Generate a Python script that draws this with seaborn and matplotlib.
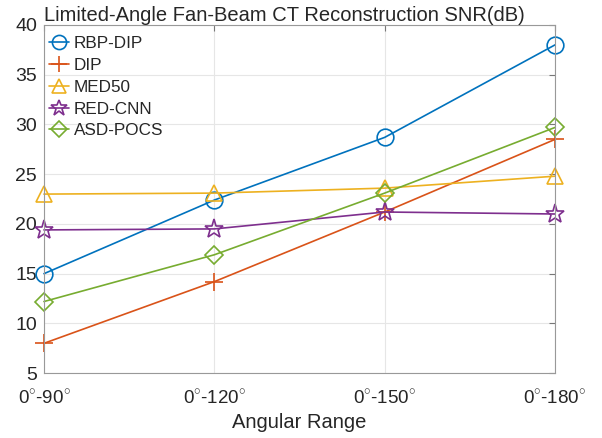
import matplotlib
matplotlib.use("Agg")
import matplotlib.pyplot as plt
import seaborn as sns
import pandas as pd
import numpy as np

categories = ["0$^{\\circ}$-90$^{\\circ}$", "0$^{\\circ}$-120$^{\\circ}$",
              "0$^{\\circ}$-150$^{\\circ}$", "0$^{\\circ}$-180$^{\\circ}$"]
rbp_dip = [15.0, 22.4, 28.7, 38.0]
dip = [8.0, 14.2, 21.2, 28.5]
med50 = [23.0, 23.1, 23.6, 24.8]
red_cnn = [19.4, 19.5, 21.2, 21.0]
asd_pocs = [12.2, 16.9, 23.1, 29.7]

series = {"RBP-DIP": rbp_dip, "DIP": dip, "MED50": med50,
          "RED-CNN": red_cnn, "ASD-POCS": asd_pocs}
colors = {"RBP-DIP": "#0072BD", "DIP": "#D95319", "MED50": "#EDB120",
          "RED-CNN": "#7E2F8E", "ASD-POCS": "#77AC30"}
markers = {"RBP-DIP": "o", "DIP": "+", "MED50": "^", "RED-CNN": "*", "ASD-POCS": "D"}
msizes = {"RBP-DIP": 12, "DIP": 13, "MED50": 12, "RED-CNN": 14, "ASD-POCS": 9.5}

rows = []
for name, vals in series.items():
    for i, v in enumerate(vals):
        rows.append({"x": i, "SNR": v, "method": name})
df = pd.DataFrame(rows)

sns.set_style("white")
plt.rcParams['font.family'] = ['Liberation Sans', 'DejaVu Sans']
plt.rcParams['mathtext.fontset'] = 'custom'
plt.rcParams['mathtext.rm'] = 'Liberation Sans'

fig = plt.figure(figsize=(6.02, 4.38), dpi=100)
ax = fig.add_axes([0.073, 0.148, 0.849, 0.795])

for name in series:
    sub = df[df["method"] == name]
    sns.lineplot(data=sub, x="x", y="SNR", ax=ax, color=colors[name],
                 marker=markers[name], markersize=msizes[name],
                 markerfacecolor="none", markeredgecolor=colors[name],
                 markeredgewidth=1.2, linewidth=1.2, label=name, clip_on=False)

ax.set_xlim(0, 3)
ax.set_ylim(5, 40)
ax.set_xticks(range(4))
ax.set_xticklabels(categories, fontsize=13.5)
ax.set_yticks(range(5, 41, 5))
ax.tick_params(axis='y', labelsize=14, pad=5)
ax.tick_params(direction='in', length=4, color='#777777', top=True, right=True)
ax.tick_params(axis='x', pad=11)
ax.grid(True, color='#e6e6e6', linewidth=0.8)
for s in ax.spines.values():
    s.set_color('#999999')
    s.set_linewidth(0.8)
ax.set_xlabel("Angular Range", fontsize=14.5, labelpad=4)
ax.set_ylabel("")
ax.set_title("Limited-Angle Fan-Beam CT Reconstruction SNR(dB)", fontsize=14.5,
             pad=3, loc="left")
leg = ax.legend(loc="upper left", bbox_to_anchor=(-0.012, 1.0), frameon=False,
                fontsize=12.3, handlelength=1.2, handletextpad=0.25,
                labelspacing=0.4, borderaxespad=0.2, borderpad=0.45,
                markerscale=0.85)
fig.savefig("out.png", dpi=100)
